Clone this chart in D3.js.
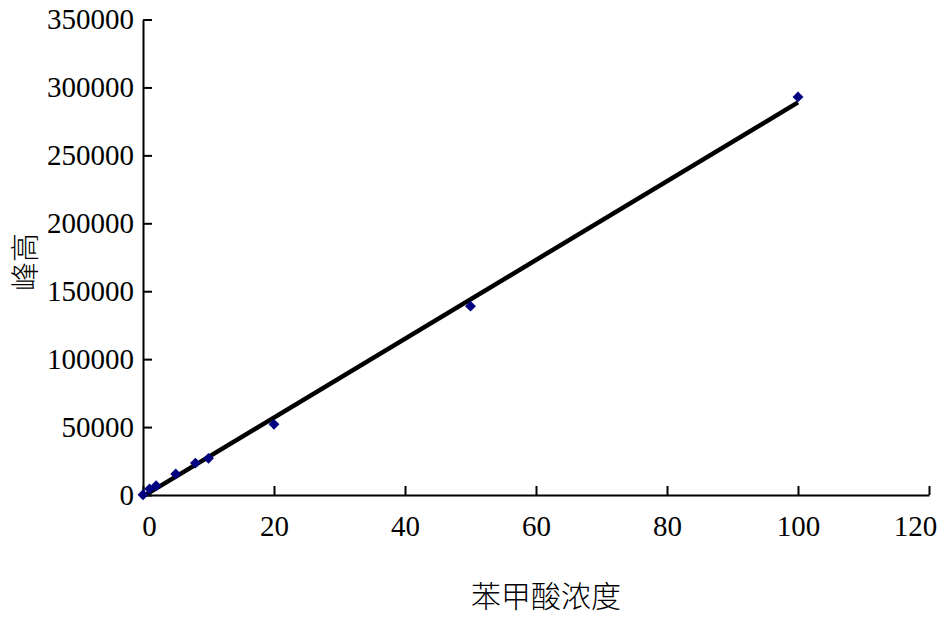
<!DOCTYPE html>
<html>
<head>
<meta charset="utf-8">
<script src="https://cdn.jsdelivr.net/npm/d3@7"></script>
<style>
  body { margin: 0; background: #fff; }
  svg { display: block; }
</style>
</head>
<body>
<svg id="chart"></svg>
<script>
// benzoic acid concentration vs peak height
const concentration = [0, 1, 2, 5, 8, 10, 20, 50, 100];
const peakHeight = [200, 4500, 6800, 15500, 23500, 27000, 52000, 139000, 293000];

// trendline ends
const fitX = [0, 100];
const fitY = [-1000, 289000];

const xTicks = [0, 20, 40, 60, 80, 100, 120];
const yTicks = [0, 50000, 100000, 150000, 200000, 250000, 300000, 350000];

const width = 950, height = 632;
const margin = { top: 19.5, right: 21, bottom: 137, left: 143 };
const w = width - margin.left - margin.right,
      h = height - margin.top - margin.bottom;

const svg = d3.select("#chart")
    .attr("width", width)
    .attr("height", height);

const g = svg.append("g")
    .attr("transform", `translate(${margin.left},${margin.top})`);

let x = d3.scaleLinear().domain([0, 120]).range([0, w]);
let y = d3.scaleLinear().domain([0, 350000]).range([h, 0]);

const serif = "'Liberation Serif', 'Times New Roman', serif";

// x axis, ticks pointing inward
let xAxis = g.append("g")
    .attr("transform", `translate(0,${h})`)
    .call(d3.axisBottom(x).tickValues(xTicks).tickFormat(d3.format("d"))
        .tickSizeInner(-9).tickSizeOuter(0).tickPadding(20));
xAxis.select(".domain").attr("stroke-width", 2);
xAxis.selectAll(".tick line").attr("stroke-width", 2);
xAxis.selectAll(".tick text")
    .attr("font-family", serif)
    .attr("font-size", "29px")
    .attr("fill", "#000")
    .attr("dx", d => d == 0 ? 6 : (d == 120 ? -14 : 0));

// y axis
let yAxis = g.append("g")
    .call(d3.axisLeft(y).tickValues(yTicks).tickFormat(d3.format("d"))
        .tickSizeInner(-9).tickSizeOuter(0).tickPadding(9));
yAxis.select(".domain").attr("stroke-width", 2);
yAxis.selectAll(".tick line").attr("stroke-width", 2);
yAxis.selectAll(".tick text")
    .attr("font-family", serif)
    .attr("font-size", "29px")
    .attr("fill", "#000");

// trendline
let line = d3.line()
    .x(d => x(d[0]))
    .y(d => y(d[1]));

g.append("path")
    .datum(fitX.map((v, i) => [v, fitY[i]]))
    .attr("d", line)
    .attr("fill", "none")
    .attr("stroke", "#000")
    .attr("stroke-width", 4.5);

// data points
g.selectAll(".pt")
    .data(concentration.map((c, i) => ({ c: c, v: peakHeight[i] })))
    .join("path")
    .attr("class", "pt")
    .attr("transform", d => `translate(${x(d.c)},${y(d.v)})`)
    .attr("d", d3.symbol().type(d3.symbolDiamond2).size(75))
    .attr("fill", "#000080");

// labels
svg.append("text")
    .text("苯甲酸浓度")
    .attr("x", 546)
    .attr("y", 607)
    .attr("text-anchor", "middle")
    .attr("font-family", "'Noto Sans CJK SC', sans-serif")
    .attr("font-size", "30px")
    .attr("font-weight", "300")
    .attr("fill", "#000");

svg.append("text")
    .text("峰高")
    .attr("transform", "translate(36,262) rotate(-90)")
    .attr("text-anchor", "middle")
    .attr("font-family", "'Noto Sans CJK SC', sans-serif")
    .attr("font-size", "29px")
    .attr("font-weight", "300")
    .attr("fill", "#000");
</script>
</body>
</html>
